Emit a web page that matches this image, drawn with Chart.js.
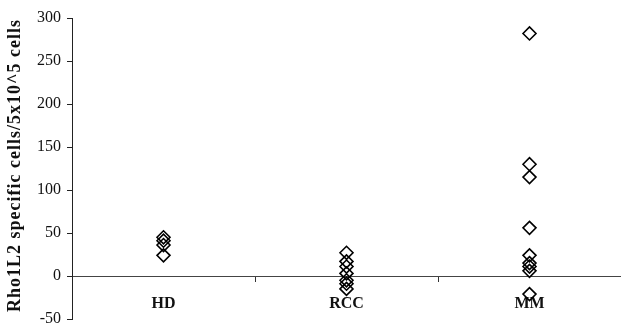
<!DOCTYPE html>
<html>
<head>
<meta charset="utf-8">
<script src="https://cdn.jsdelivr.net/npm/chart.js@4"></script>
<style>
  html, body { margin: 0; padding: 0; background: #fff; }
  #wrap { width: 621px; height: 327px; }
</style>
</head>
<body>
<div id="wrap"><canvas id="chart"></canvas></div>
<script>
// categories and values
const categories = ['HD', 'RCC', 'MM'];
const hdValues = [45, 41, 36, 24];
const rccValues = [27, 17, 11, 3, -5, -9, -15];
const mmValues = [282, 130, 115, 56, 24, 15, 11, 6, -21];
const yTicks = [-50, 0, 50, 100, 150, 200, 250, 300];
const yTitle = 'Rho1L2 specific cells/5x10^5 cells';

const serif = '"Liberation Serif", "Times New Roman", serif';

function toPoints(cat, values) {
    return values.map(v => ({ x: cat, y: v }));
}

const allPoints = []
    .concat(toPoints(categories[0], hdValues))
    .concat(toPoints(categories[1], rccValues))
    .concat(toPoints(categories[2], mmValues));

// rotated axis title, drawn a bit wider-spaced like the original
const yTitlePlugin = {
    id: 'yTitle',
    afterDraw(chart) {
        const ctx = chart.ctx;
        const area = chart.chartArea;
        ctx.save();
        ctx.translate(15, (area.top + area.bottom) / 2 - 3);
        ctx.rotate(-Math.PI / 2);
        ctx.font = 'bold 18px ' + serif;
        ctx.letterSpacing = '1px';
        ctx.fillStyle = '#111';
        ctx.textAlign = 'center';
        ctx.textBaseline = 'middle';
        ctx.fillText(yTitle, 0, 0);
        ctx.restore();
    }
};

new Chart(document.getElementById('chart'), {
    type: 'scatter',
    data: {
        labels: categories,
        datasets: [{
            data: allPoints,
            pointStyle: 'rectRot',
            pointRadius: 6.5,
            pointHoverRadius: 6.5,
            borderColor: '#000',
            backgroundColor: 'rgba(0,0,0,0)',
            pointBorderWidth: 1.6
        }]
    },
    options: {
        responsive: true,
        maintainAspectRatio: false,
        animation: false,
        layout: {
            autoPadding: false,
            padding: { top: 18, right: 0, bottom: 8, left: 0 }
        },
        plugins: {
            legend: { display: false },
            tooltip: { enabled: false }
        },
        scales: {
            x: {
                type: 'category',
                labels: categories,
                offset: true,
                position: { y: 0 },
                afterFit: scale => {
                    scale.paddingLeft = 0;
                    scale.paddingRight = 0;
                    scale.paddingTop = 0;
                    scale.paddingBottom = 0;
                },
                grid: {
                    offset: true,
                    drawOnChartArea: false,
                    tickLength: 5,
                    color: '#333'
                },
                border: { display: true, color: '#444', width: 1 },
                ticks: {
                    padding: 13,
                    color: '#111',
                    font: { family: serif, size: 16, weight: 'bold' }
                }
            },
            y: {
                min: -50,
                max: 300,
                afterBuildTicks: scale => {
                    scale.ticks = yTicks.map(v => ({ value: v }));
                },
                afterFit: scale => {
                    scale.width = 72;
                    scale.paddingTop = 0;
                    scale.paddingBottom = 0;
                },
                grid: {
                    drawOnChartArea: false,
                    tickLength: 5,
                    color: '#222'
                },
                border: { display: true, color: '#222', width: 1 },
                ticks: {
                    padding: 6,
                    color: '#111',
                    font: { family: serif, size: 16 }
                }
            }
        }
    },
    plugins: [yTitlePlugin]
});
</script>
</body>
</html>
